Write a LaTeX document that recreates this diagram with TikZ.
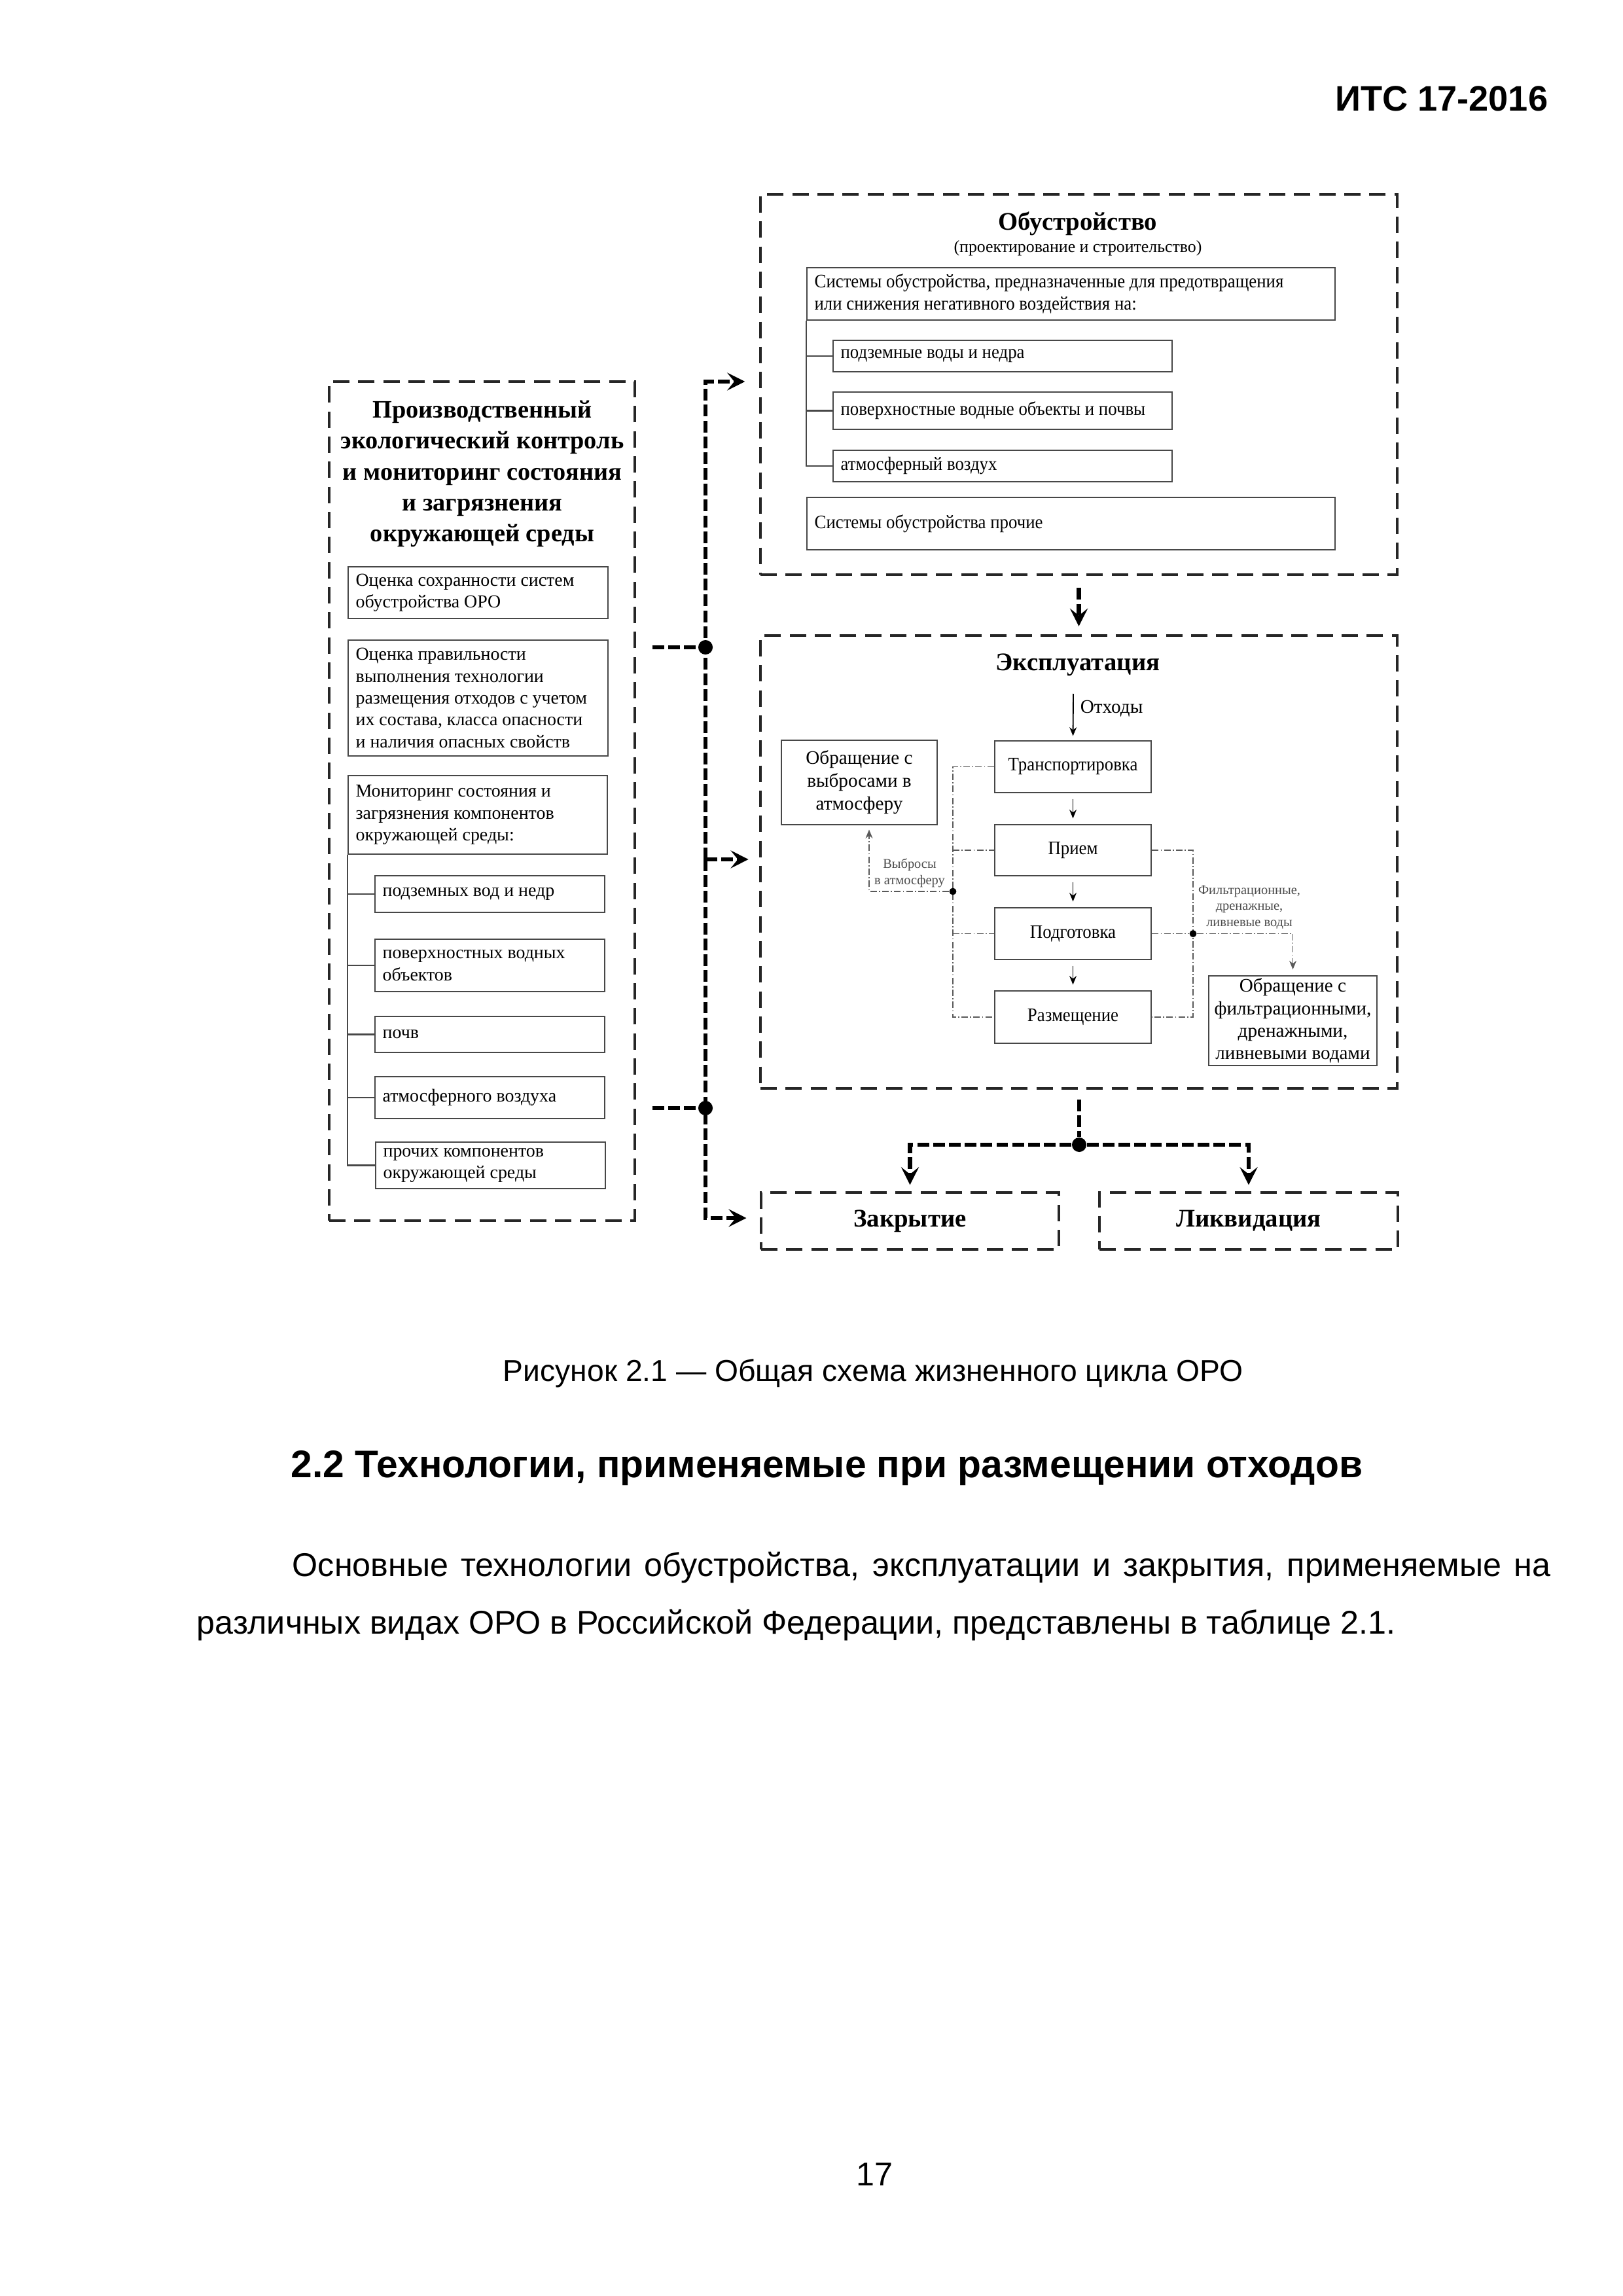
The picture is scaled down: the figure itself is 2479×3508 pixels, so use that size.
\documentclass[tikz,border=0pt]{standalone}
\usepackage{fontspec}
\setmainfont{Liberation Serif}
\newfontfamily\arialf{Liberation Sans}
\newfontfamily\condf[FakeStretch=0.92]{Liberation Serif}
\usetikzlibrary{arrows.meta,calc}
\newcommand\cbx[7]{\pgfmathsetmacro\mybw{(#5-#3)*0.24}\pgfmathsetmacro\mybh{(#6-#4)*0.24}\node[#1,minimum width=\mybw pt,minimum height=\mybh pt] (#2) at ({(#3+#5)/2},{(#4+#6)/2}) {#7};}
\newcommand\lbx[7]{\pgfmathsetmacro\mybw{(#5-#3)*0.24}\pgfmathsetmacro\mybh{(#6-#4)*0.24}\node[ibox,minimum width=\mybw pt,minimum height=\mybh pt] (#2) at ({(#3+#5)/2},{(#4+#6)/2}) {};\node[#1,anchor=west,align=left,inner sep=0pt] (#2t) at ([xshift=2.88pt]#2.west) {#7};}
\begin{document}
\begin{tikzpicture}[x=0.24pt,y=-0.24pt,
  outer/.style={draw=black!85,line width=0.8pt,dash pattern=on 6pt off 3.2pt,inner sep=0pt},
  ibox/.style={draw=black!72,line width=0.6pt,inner sep=1pt,align=center,font=\fontsize{7}{7.9}\selectfont},
  ltxt/.style={font=\fontsize{6.7}{8}\selectfont},
  otxt/.style={font=\condf\fontsize{7}{8.2}\selectfont},
  cbus/.style={line width=1.5pt,dash pattern=on 4.3pt off 1.5pt},
  tarrow/.style={cbus,-{Stealth[length=6.5pt,width=6.5pt,inset=2.6pt]}},
  ddot/.style={draw=black!65,line width=0.4pt,dash pattern=on 2.4pt off 0.8pt on 0.4pt off 0.8pt},
  sarrow/.style={line width=0.45pt,-{Stealth[length=3.2pt,width=2.6pt]}},
  bigdot/.style={circle,fill=black,inner sep=0pt,minimum size=5.3pt},
  smalldot/.style={circle,fill=black,inner sep=0pt,minimum size=2.6pt},
  ttl/.style={font=\bfseries\fontsize{9.3}{10.5}\selectfont},
  lbl/.style={text=black!70,align=center,font=\fontsize{4.9}{5.9}\selectfont,inner sep=0pt}]
\useasboundingbox[fill=white] (0,0) rectangle (2479,3508);

% ---------- page text ----------
\node[anchor=base east,inner sep=0pt,font=\arialf\bfseries\fontsize{13}{15}\selectfont] (hdr) at (2366,170) {ИТС 17-2016};
\node[inner sep=0pt,font=\arialf\fontsize{11.1}{13}\selectfont] (cap) at (1334,2098) {Рисунок 2.1 — Общая схема жизненного цикла ОРО};
\node[anchor=west,inner sep=0pt,font=\arialf\bfseries\fontsize{14.1}{17}\selectfont] (hd) at (444,2243) {2.2 Технологии, применяемые при размещении отходов};
\node[anchor=west,inner sep=0pt,font=\arialf\fontsize{12.06}{15}\selectfont] (p1) at (446,2395) {\makebox[461.3pt][s]{Основные технологии обустройства, эксплуатации и закрытия, применяемые на}};
\node[anchor=west,inner sep=0pt,font=\arialf\fontsize{12.06}{15}\selectfont] (p2) at (300,2483) {различных видах ОРО в Российской Федерации, представлены в таблице 2.1.};
\node[inner sep=0pt,font=\arialf\fontsize{12.06}{15}\selectfont] (pn) at (1336,3322) {17};

% ---------- left block ----------
\cbx{outer}{LB}{503}{583}{970}{1865}{}
\node[align=center,inner sep=0pt,font=\bfseries\fontsize{9.2}{11.3}\selectfont] (LBt) at (737,724) {Производственный\\экологический контроль\\и мониторинг состояния\\и загрязнения\\окружающей среды};
\lbx{ltxt}{L1}{532}{866}{929}{945}{Оценка сохранности систем\\обустройства ОРО}
\lbx{ltxt}{L2}{532}{978}{929}{1155}{Оценка правильности\\выполнения технологии\\размещения отходов с учетом\\их состава, класса опасности\\и наличия опасных свойств}
\lbx{ltxt}{L3}{532}{1185}{928}{1305}{Мониторинг состояния и\\загрязнения компонентов\\окружающей среды:}
\lbx{ltxt}{S1}{573}{1338}{924}{1394}{подземных вод и недр}
\lbx{ltxt}{S2}{573}{1435}{924}{1515}{поверхностных водных\\объектов}
\lbx{ltxt}{S3}{573}{1553}{924}{1608}{почв}
\lbx{ltxt}{S4}{573}{1645}{924}{1709}{атмосферного воздуха}
\lbx{ltxt}{S5}{574}{1745}{925}{1816}{прочих компонентов\\окружающей среды}
\draw[draw=black!72,line width=0.6pt] (L3.south west) |- (S5.west);
\foreach \s in {S1,S2,S3,S4} \draw[draw=black!72,line width=0.6pt] (L3.south west |- \s.west) -- (\s.west);

% ---------- Obustroistvo ----------
\cbx{outer}{O}{1162}{297}{2135}{878}{}
\node[ttl,inner sep=0pt] (Ot) at (1647,342) {Обустройство};
\node[inner sep=0pt,font=\fontsize{6.2}{7}\selectfont] (Ost) at (1647,379) {(проектирование и строительство)};
\lbx{otxt}{O1}{1233}{409}{2040}{489}{Системы обустройства, предназначенные для предотвращения\\или снижения негативного воздействия на:}
\lbx{otxt}{Os1}{1273}{520}{1791}{568}{подземные воды и недра}
\lbx{otxt}{Os2}{1273}{599}{1791}{656}{поверхностные водные объекты и почвы}
\lbx{otxt}{Os3}{1273}{688}{1791}{736}{атмосферный воздух}
\lbx{otxt}{O2}{1233}{760}{2040}{840}{Системы обустройства прочие}
\draw[draw=black!72,line width=0.6pt] (O1.south west) |- (Os3.west);
\foreach \s in {Os1,Os2} \draw[draw=black!72,line width=0.6pt] (O1.south west |- \s.west) -- (\s.west);

% ---------- Ekspluatatsiya ----------
\cbx{outer}{E}{1162}{971}{2135}{1663}{}
\node[ttl,inner sep=0pt] (Et) at (1647,1016) {Эксплуатация};
\cbx{ibox,otxt}{T}{1520}{1132}{1759}{1211}{Транспортировка}
\cbx{ibox,otxt}{P}{1520}{1260}{1759}{1338}{Прием}
\cbx{ibox,otxt}{G}{1520}{1387}{1759}{1466}{Подготовка}
\cbx{ibox,otxt}{R}{1520}{1514}{1759}{1594}{Размещение}
\cbx{ibox,font=\fontsize{7}{8.4}\selectfont}{A}{1194}{1131}{1432}{1260}{Обращение с\\выбросами в\\атмосферу}
\cbx{ibox,font=\fontsize{7}{8.2}\selectfont}{F}{1847}{1491}{2104}{1628}{Обращение с\\фильтрационными,\\дренажными,\\ливневыми водами}
\coordinate (otx) at (1640,1060);
\draw[sarrow,shorten >=1.5pt] (otx) -- (T.north);
\node[anchor=west,inner sep=0pt,font=\fontsize{7}{8}\selectfont] (otl) at (1650,1083) {Отходы};
\draw[sarrow,shorten <=2pt,shorten >=2pt] (T.south) -- (P.north);
\draw[sarrow,shorten <=2pt,shorten >=2pt] (P.south) -- (G.north);
\draw[sarrow,shorten <=2pt,shorten >=2pt] (G.south) -- (R.north);
% left dash-dot bus
\coordinate (lbx) at (1456,0);
\coordinate (rbx) at (1823,0);
\draw[ddot] (T.west) -- (T.west -| lbx) -- (R.west -| lbx) -- (R.west);
\draw[ddot] (P.west -| lbx) -- (P.west);
\draw[ddot] (G.west -| lbx) -- (G.west);
\node[smalldot] (ld) at (1456,1362) {};
\coordinate (aup) at (1328,1362);
\draw[ddot,sarrow,shorten >=1.5pt] (ld) -- (aup) -- (aup |- A.south);
\node[lbl] (al) at (1390,1334) {Выбросы\\в атмосферу};
% right dash-dot bus
\draw[ddot] (P.east) -- (P.east -| rbx) -- (R.east -| rbx) -- (R.east);
\node[smalldot] (rd) at (G.east -| rbx) {};
\draw[ddot] (G.east) -- (rd);
\draw[ddot,sarrow,shorten >=2pt] (rd) -| (F.north);
\node[lbl] (fl) at (1909,1386) {Фильтрационные,\\дренажные,\\ливневые воды};

% ---------- closure ----------
\cbx{outer,ttl}{Z}{1163}{1822}{1618}{1909}{Закрытие}
\cbx{outer,ttl}{Q}{1680}{1822}{2136}{1909}{Ликвидация}
\node[bigdot] (cd) at (1649,1749) {};
\draw[cbus,shorten <=3.6pt] (E.south -| cd) -- (cd);
\draw[tarrow,shorten >=2.4pt] (cd) -| (Z.north);
\draw[tarrow,shorten >=2.4pt] (cd) -| (Q.north);

% obustroistvo -> ekspluatatsiya
\draw[tarrow,shorten <=4.5pt,shorten >=3pt] (O.south) -- (E.north);

% ---------- left dashed bus ----------
\coordinate (bt) at (1078,583);
\coordinate (bm) at (1078,1313);
\coordinate (bb) at (1078,1861);
\node[bigdot] (d1) at (1078,989) {};
\node[bigdot] (d2) at (1078,1693) {};
\draw[tarrow,shorten >=5.3pt] (bm) -- (bt) -- (bt -| O.west);
\draw[tarrow,shorten >=5pt] (bm) -- (bb) -- (bb -| Z.west);
\draw[tarrow,shorten >=4pt] (bm) -- (bm -| E.west);
\draw[cbus,shorten <=6pt] (LB.east |- d1) -- (d1);
\draw[cbus,shorten <=6pt] (LB.east |- d2) -- (d2);
\end{tikzpicture}
\end{document}
